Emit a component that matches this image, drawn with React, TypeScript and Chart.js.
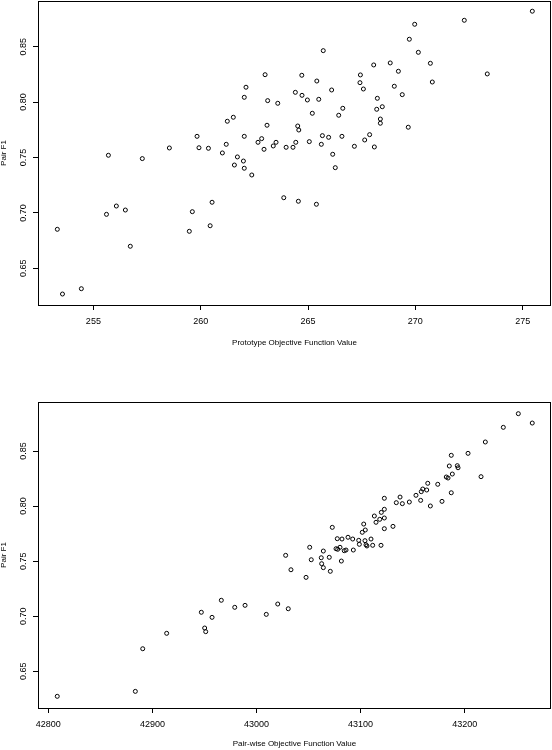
import { useEffect, useRef } from 'react';
import { Chart, registerables } from 'chart.js';
Chart.register(...registerables);

// top panel: prototype objective vs pair F1
const protoObj = [
  255.70, 257.28, 258.54, 259.83, 259.92, 260.36, 261.01, 261.19, 261.24, 261.52,
  261.57, 261.71, 261.99, 262.03, 262.03, 262.03, 262.11, 262.38, 262.67, 262.84,
  262.95, 263.00, 263.09, 263.12, 263.38, 263.51, 263.59, 275.45, 272.28, 269.97,
  269.72, 265.71, 270.14, 270.70, 268.83, 268.06, 269.21, 273.35, 264.71, 267.44,
  265.41, 267.42, 270.79, 267.58, 269.02, 266.10, 264.41, 264.72, 264.97, 265.50,
  269.39, 268.23, 266.62, 268.20, 268.46, 265.20, 266.43, 268.37, 268.37, 264.52,
  264.57, 269.67, 265.67, 265.96, 266.58, 267.87, 267.64, 265.06, 264.43, 265.62,
  263.98, 264.30, 267.16, 268.09, 266.15, 266.27, 253.32, 253.56, 254.44, 255.61,
  256.07, 256.49, 256.72, 259.47, 259.61, 260.44, 260.53, 263.87, 264.55, 265.39,
];
const protoF1 = [
  0.752, 0.749, 0.7586, 0.7691, 0.7588, 0.7583, 0.7541, 0.7619, 0.7827, 0.7863,
  0.7432, 0.7505, 0.7468, 0.7403, 0.7691, 0.8043, 0.8134, 0.7342, 0.7637, 0.767,
  0.7574, 0.8247, 0.7791, 0.8013, 0.7604, 0.7637, 0.7989, 0.882, 0.8738, 0.8702,
  0.8567, 0.8464, 0.8449, 0.835, 0.8353, 0.8335, 0.8278, 0.8254, 0.8242, 0.8245,
  0.819, 0.8175, 0.8181, 0.8118, 0.8143, 0.8109, 0.8088, 0.8061, 0.8019, 0.8025,
  0.8067, 0.8034, 0.7944, 0.7935, 0.7958, 0.7899, 0.7881, 0.7847, 0.7809, 0.7784,
  0.7748, 0.7773, 0.7697, 0.7682, 0.7691, 0.7706, 0.7658, 0.7643, 0.7637, 0.7619,
  0.7592, 0.7592, 0.7601, 0.7595, 0.7529, 0.7408, 0.6852, 0.6268, 0.6316, 0.6987,
  0.7062, 0.7026, 0.6699, 0.6834, 0.7011, 0.6884, 0.7096, 0.7137, 0.7105, 0.7078,
];

// bottom panel: pair-wise objective vs pair F1
const pairObj = [
  43251.5, 43264.9, 43237.1, 43219.8, 43203.2, 43187.1, 43185.2, 43192.9, 43193.6, 43188.1,
  43182.3, 43184.0, 43215.7, 43174.1, 43164.5, 43159.7, 43163.5, 43158.3, 43187.1, 43153.2,
  43157.7, 43137.9, 43122.8, 43134.3, 43140.1, 43146.8, 43178.2, 43167.0, 43122.8, 43119.9,
  43113.2, 43118.4, 43122.8, 43114.8, 43103.0, 43104.5, 43101.6, 43122.8, 43131.1, 43072.8,
  43077.6, 43082.1, 43087.9, 43092.4, 43098.2, 43104.2, 43110.0, 43098.8, 43105.2, 43106.1,
  43111.6, 43119.6, 43076.4, 43080.2, 43078.0, 43084.3, 43086.0, 43093.0, 43051.1, 43064.2,
  43028.0, 43052.6, 43062.2, 43069.9, 43081.5, 43062.6, 43064.2, 43033.1, 43070.9, 43047.6,
  43020.4, 43030.5, 42808.6, 42883.6, 42890.7, 42913.7, 42947.0, 42950.2, 42951.2, 42957.3,
  42966.2, 42979.1, 42989.0, 43009.4,
];
const pairF1 = [
  0.8839, 0.8754, 0.8715, 0.8582, 0.8479, 0.8461, 0.8364, 0.8367, 0.8348, 0.8291,
  0.8264, 0.8255, 0.8267, 0.8198, 0.8207, 0.8155, 0.8146, 0.8131, 0.8121, 0.8098,
  0.8052, 0.8082, 0.8071, 0.8031, 0.8022, 0.8037, 0.8043, 0.8001, 0.7971, 0.7943,
  0.791, 0.788, 0.7892, 0.7853, 0.7837, 0.7783, 0.7762, 0.7795, 0.7816, 0.7807,
  0.7704, 0.7701, 0.7717, 0.7701, 0.7689, 0.7686, 0.7701, 0.7653, 0.7649, 0.7638,
  0.7644, 0.7644, 0.7613, 0.7626, 0.7608, 0.7595, 0.7601, 0.7601, 0.7626, 0.7592,
  0.7553, 0.7513, 0.7531, 0.7535, 0.7501, 0.7477, 0.7441, 0.7422, 0.7408, 0.7353,
  0.7111, 0.7068, 0.6273, 0.6318, 0.6705, 0.6845, 0.7036, 0.6893, 0.686, 0.699,
  0.7145, 0.7081, 0.7099, 0.7017,
];

const protoTicks = [255, 260, 265, 270, 275];
const pairTicks = [42800, 42900, 43000, 43100, 43200];
const f1Ticks = [0.65, 0.7, 0.75, 0.8, 0.85];

const FONT = '"Liberation Sans", Arial, sans-serif';

// R-style box and rotated y labels
const rBox = {
  id: 'rBox',
  afterDraw(chart: any) {
    const { ctx, chartArea: a, scales } = chart;
    ctx.save();
    ctx.strokeStyle = '#000';
    ctx.lineWidth = 1;
    const l = Math.round(a.left) + 0.5, t = Math.round(a.top) + 0.5;
    const r = Math.round(a.right) - 0.5, b = Math.round(a.bottom) + 0.5;
    ctx.strokeRect(l, t, r - l, b - t);
    ctx.fillStyle = '#000';
    ctx.font = '9px ' + FONT;
    ctx.textAlign = 'center';
    ctx.textBaseline = 'middle';
    const y = scales.y;
    y.ticks.forEach((tk: any) => {
      const py = y.getPixelForValue(tk.value);
      ctx.save();
      ctx.translate(23.5, py);
      ctx.rotate(-Math.PI / 2);
      ctx.fillText(tk.value.toFixed(2), 0, 0);
      ctx.restore();
    });
    ctx.restore();
  },
};

function Scatter(props: {
  xs: number[]; ys: number[]; xTicks: number[]; xTitle: string;
  xMin: number; xMax: number; yMin: number; yMax: number;
  padTop: number; xAxisH: number; titlePad: number;
}) {
  const ref = useRef<HTMLCanvasElement | null>(null);
  useEffect(() => {
    if (!ref.current) return;
    const p = props;
    const chart = new Chart(ref.current, {
      type: 'scatter',
      data: {
        datasets: [{
          data: p.xs.map((x, i) => ({ x, y: p.ys[i] })),
          pointRadius: 2,
          pointBorderWidth: 1,
          borderColor: '#000',
          backgroundColor: 'rgba(0,0,0,0)',
        }],
      },
      options: {
        animation: false,
        responsive: false,
        layout: { autoPadding: false, padding: { top: p.padTop, right: 1, left: 0, bottom: 0 } },
        plugins: { legend: { display: false }, tooltip: { enabled: false } },
        scales: {
          x: {
            type: 'linear', min: p.xMin, max: p.xMax,
            afterBuildTicks: (s: any) => { s.ticks = p.xTicks.map(v => ({ value: v })); },
            afterFit: (s: any) => { s.height = p.xAxisH; },
            border: { display: false },
            grid: { drawOnChartArea: false, drawTicks: true, tickLength: 5, color: '#000' },
            ticks: { color: '#000', padding: 6, font: { family: FONT, size: 9 }, callback: (v: any) => String(v), maxRotation: 0 },
            title: { display: true, text: p.xTitle, color: '#000', font: { family: FONT, size: 8 }, padding: { top: 0, bottom: p.titlePad } },
          },
          y: {
            type: 'linear', min: p.yMin, max: p.yMax,
            afterBuildTicks: (s: any) => { s.ticks = f1Ticks.map(v => ({ value: v })); },
            afterFit: (s: any) => { s.width = 38; },
            border: { display: false },
            grid: { drawOnChartArea: false, drawTicks: true, tickLength: 5, color: '#000' },
            ticks: { display: false },
            title: { display: true, text: 'Pair F1', color: '#000', font: { family: FONT, size: 8, lineHeight: 1 }, padding: 0 },
          },
        },
      },
      plugins: [rBox],
    });
    return () => chart.destroy();
  }, []);
  return <canvas ref={ref} width={552} height={375} style={{ display: 'block', width: 552, height: 375 }} />;
}

export default function App() {
  return (
    <div style={{ position: 'absolute', left: 0, top: 0, width: 552, height: 750, background: '#fff' }}>
      <Scatter xs={protoObj} ys={protoF1} xTicks={protoTicks} xTitle="Prototype Objective Function Value"
        xMin={252.42} xMax={276.32} yMin={0.6169} yMax={0.8912} padTop={1} xAxisH={70} titlePad={27} />
      <Scatter xs={pairObj} ys={pairF1} xTicks={pairTicks} xTitle="Pair-wise Objective Function Value"
        xMin={42790.1} xMax={43282.9} yMin={0.6167} yMax={0.8945} padTop={27} xAxisH={42} titlePad={1.5} />
    </div>
  );
}
